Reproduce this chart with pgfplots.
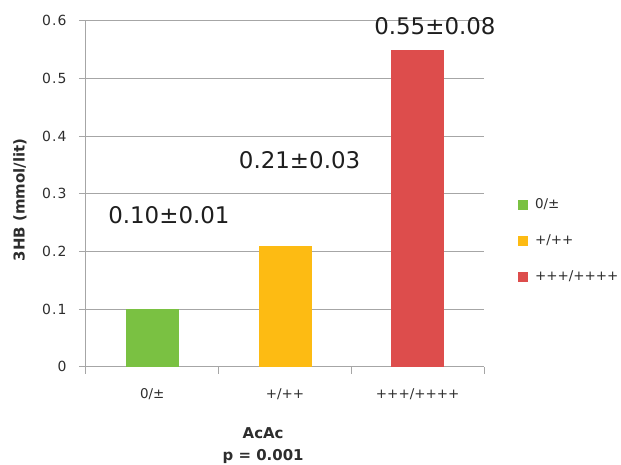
\documentclass[border=0pt]{standalone}
\usepackage{fontspec}
\setmainfont{DejaVu Sans}
\newfontfamily\tickfont[LetterSpace=8]{DejaVu Sans}
\usepackage{pgfplots}
\pgfplotsset{compat=1.18}
\definecolor{grn}{RGB}{122,193,66}
\definecolor{ylw}{RGB}{253,187,19}
\definecolor{rd}{RGB}{221,77,76}
\definecolor{gridc}{RGB}{166,166,166}
\definecolor{txt}{RGB}{45,45,45}
\definecolor{valc}{RGB}{30,30,30}
\begin{document}
\begin{tikzpicture}
\begin{axis}[
  scale only axis, width=398bp, height=346bp,
  clip=false,
  ymin=0, ymax=0.6, xmin=-0.5, xmax=2.5,
  ybar, bar width=53bp, bar shift=0pt,
  ytick={0,0.1,0.2,0.3,0.4,0.5,0.6},
  xtick={0,1,2}, xticklabels={0/±,+/++,+++/++++},
  minor xtick={-0.5,0.5,1.5,2.5},
  axis lines=left, axis line style={gridc, line width=1bp, -},
  ymajorgrids, grid style={gridc, line width=1bp},
  tick align=outside, major tick length=7bp, minor tick length=7bp,
  tick style={gridc, line width=1bp},
  major x tick style={draw=none},
  /pgf/number format/assume math mode=true,
  yticklabel style={font=\tickfont\fontsize{14}{16}\selectfont, text=txt, xshift=-9bp},
  xticklabel style={font=\fontsize{13.5}{15}\selectfont, text=txt, yshift=-11bp},
  ylabel={\textbf{3HB (mmol/lit)}},
  ylabel style={at={(axis description cs:-0.166,0.482)}, anchor=center, font=\fontsize{15}{17}\selectfont, text=txt},
  xlabel={\textbf{AcAc}\\\textbf{p = 0.001}},
  xlabel style={at={(axis description cs:0.445,-0.228)}, anchor=center, align=center, font=\fontsize{15}{22}\selectfont, text=txt},
  legend style={draw=none, at={(1.085,0.487)}, anchor=north west, inner sep=0pt,
    font=\fontsize{13.5}{15}\selectfont, text=txt,
    nodes={inner sep=0pt, text height=10bp, text depth=3bp},
    row sep=23bp},
  legend cell align=left,
  legend image code/.code={\draw[#1, draw=none] (0bp,-5bp) rectangle (10bp,5bp); \path (17bp,0bp);},
]
\addplot[fill=grn, draw=none, bar shift=0pt] coordinates {(0,0.10)};
\addlegendentry{0/±}
\addplot[fill=ylw, draw=none, bar shift=0pt] coordinates {(1,0.21)};
\addlegendentry{+/++}
\addplot[fill=rd, draw=none, bar shift=0pt] coordinates {(2,0.55)};
\addlegendentry{+++/++++}
\node[font=\fontsize{23}{26}\selectfont, text=valc] at (axis cs:0.125,0.263) {0.10±0.01};
\node[font=\fontsize{23}{26}\selectfont, text=valc] at (axis cs:1.11,0.359) {0.21±0.03};
\node[font=\fontsize{23}{26}\selectfont, text=valc] at (axis cs:2.13,0.59) {0.55±0.08};
\end{axis}
\pgfresetboundingbox
\path (-86bp,-98.3bp) rectangle (535bp,366.7bp);
\end{tikzpicture}
\end{document}
